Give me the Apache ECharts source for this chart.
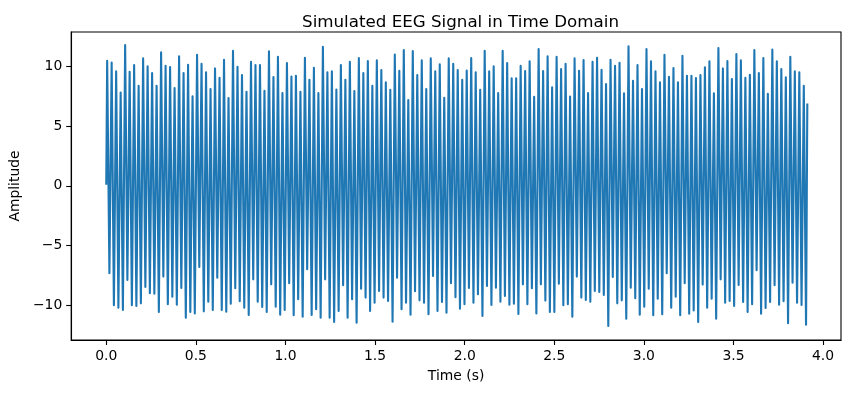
<!DOCTYPE html>
<html>
<head>
<meta charset="utf-8">
<script src="https://cdn.jsdelivr.net/npm/echarts@6/dist/echarts.min.js"></script>
<style>
  html, body { margin: 0; padding: 0; background: #fff; }
  #chart { width: 853px; height: 393px; }
</style>
</head>
<body>
<div id="chart"></div>
<script>
// ---- Data ----
const chartTitle = 'Simulated EEG Signal in Time Domain';
const xAxisTitle = 'Time (s)';
const yAxisTitle = 'Amplitude';
const xTickValues = [0, 0.5, 1, 1.5, 2, 2.5, 3, 3.5, 4];
const yTickValues = [-10, -5, 0, 5, 10];

// start / end samples of the trace
const startPoint = [0, 0.08];
const endPoint = [3.912, 6.9];
// time of the first crest and spacing between crests (s)
const firstCrestTime = 0.005;
const crestPeriod = 0.02508;

// crest (local max) values, in order
const crests = [
  10.47, 10.33, 9.58, 7.82, 11.79, 9.55, 10.11, 8.38, 10.67, 10.0, 9.44, 8.38, 11.17, 10.06, 9.94, 8.18, 10.84, 9.44, 10.14, 7.5,
  10.98, 10.22, 9.5, 8.1, 9.83, 9.05, 10.56, 7.35, 11.3, 9.97, 9.27, 7.88, 10.39, 10.11, 10.11, 7.96, 11.26, 9.11, 10.81, 7.76,
  10.28, 9.16, 9.22, 7.88, 10.73, 8.88, 9.89, 7.76, 11.65, 9.5, 9.58, 8.07, 10.11, 8.88, 10.39, 7.93, 10.7, 9.44, 10.45,
  8.38, 10.5, 9.69, 8.66, 8.04, 11.0, 9.64, 11.37, 7.18, 11.28, 9.27, 10.5, 8.1, 10.67, 9.58, 10.17, 7.37, 10.67, 10.22, 9.69,
  8.88, 9.66, 10.7, 9.5, 8.04, 11.3, 9.58, 10.0, 7.76, 11.3, 10.28, 9.0, 9.0, 10.06, 9.61, 10.42, 7.46, 11.45, 9.61, 10.84,
  8.24, 10.81, 9.78, 10.22, 7.48, 10.67, 9.64, 10.53, 7.76, 10.39, 10.73, 9.72, 8.52, 10.56, 10.06, 10.31, 7.74, 11.68, 8.8, 10.11,
  8.1, 11.45, 10.42, 9.58, 8.66, 10.98, 9.13, 9.86, 8.66, 10.89, 9.22, 9.22, 9.02, 9.27, 9.92, 10.42, 7.74, 11.54, 9.83, 10.45,
  8.94, 11.03, 10.5, 9.05, 9.3, 11.37, 9.44, 10.7, 7.71, 11.42, 10.42, 9.78, 9.08, 10.81, 9.58, 9.5, 8.38
];

// trough (local min) values, in order (each follows the crest of same index)
const troughs = [
  -7.32, -10.0, -10.2, -10.4, -7.88, -10.0, -10.06, -9.84, -8.47, -9.0, -9.03, -10.56, -7.6, -9.92, -9.28, -9.95, -8.55, -11.04, -10.56,
  -10.68, -6.79, -10.51, -9.7, -10.4, -7.69, -10.4, -10.54, -9.87, -8.58, -9.67, -10.2, -10.82, -7.83, -9.7, -10.15, -10.56, -8.25, -10.12, -10.79,
  -10.4, -8.16, -10.84, -9.5, -10.96, -6.99, -10.82, -10.34, -11.04, -7.83, -11.04, -11.4, -10.48, -8.33, -11.04, -9.5, -11.46, -8.61, -9.36, -10.48,
  -9.78, -8.8, -9.36, -9.64, -11.38, -7.69, -10.34, -9.78, -10.79, -8.83, -9.59, -9.78, -10.76, -7.55, -10.48, -9.73, -10.62, -8.16, -9.33, -10.29,
  -9.92, -8.55, -9.78, -9.08, -10.9, -8.38, -9.98, -8.53, -9.7, -9.22, -9.95, -9.87, -10.73, -8.25, -9.92, -8.58, -10.68, -8.25, -9.61, -10.56,
  -10.56, -8.19, -10.0, -9.92, -10.96, -7.6, -9.36, -9.56, -9.7, -8.8, -8.89, -9.14, -11.74, -7.63, -9.84, -9.59, -11.12, -8.53, -9.42, -10.79,
  -10.12, -8.61, -10.84, -9.45, -10.76, -7.32, -10.2, -9.28, -10.84, -8.16, -10.71, -10.43, -11.4, -8.27, -10.2, -9.45, -11.12, -7.83, -9.78, -9.64,
  -10.06, -8.3, -9.73, -10.56, -9.92, -7.07, -10.71, -10.23, -9.73, -8.33, -9.95, -9.67, -11.51, -8.11, -9.78, -9.98, -11.63
];

// ---- Build the series ----
const seriesData = [startPoint];
for (let i = 0; i < crests.length; i++) {
  seriesData.push([firstCrestTime + i * crestPeriod, crests[i]]);
  if (i < troughs.length) {
    seriesData.push([firstCrestTime + (i + 0.5) * crestPeriod, troughs[i]]);
  }
}
seriesData.push(endPoint);

const FONT = 'DejaVu Sans';
const chart = echarts.init(document.getElementById('chart'), null, { renderer: 'canvas' });
chart.setOption({
  animation: false,
  backgroundColor: '#ffffff',
  title: {
    text: chartTitle,
    left: 455.5,
    textAlign: 'center',
    top: 9,
    textStyle: { fontFamily: FONT, fontSize: 16.7, fontWeight: 'normal', color: '#000' }
  },
  grid: {
    left: 69, right: 12, top: 32, bottom: 53,
    show: true, borderColor: '#000', borderWidth: 1.1, backgroundColor: 'transparent'
  },
  xAxis: {
    type: 'value',
    min: -0.1956,
    max: 4.1,
    name: xAxisTitle,
    nameLocation: 'middle',
    nameGap: 29,
    nameTextStyle: { fontFamily: FONT, fontSize: 13.9, color: '#000' },
    axisLine: { show: true, onZero: false, lineStyle: { color: '#000', width: 1.1 } },
    axisTick: { show: true, length: 5, lineStyle: { color: '#000', width: 1.1 }, customValues: xTickValues },
    axisLabel: {
      color: '#000', fontFamily: FONT, fontSize: 13.9, margin: 9,
      customValues: xTickValues,
      formatter: v => v.toFixed(1)
    },
    splitLine: { show: false }
  },
  yAxis: {
    type: 'value',
    min: -12.91,
    max: 12.88,
    name: yAxisTitle,
    nameLocation: 'middle',
    nameGap: 43,
    nameTextStyle: { fontFamily: FONT, fontSize: 13.9, color: '#000' },
    axisLine: { show: true, onZero: false, lineStyle: { color: '#000', width: 1.1 } },
    axisTick: { show: true, length: 5, lineStyle: { color: '#000', width: 1.1 }, customValues: yTickValues },
    axisLabel: {
      color: '#000', fontFamily: FONT, fontSize: 13.9, margin: 9,
      customValues: yTickValues,
      formatter: v => (v < 0 ? '\u2212' + Math.abs(v) : String(v))
    },
    splitLine: { show: false }
  },
  series: [{
    type: 'line',
    data: seriesData,
    showSymbol: false,
    symbol: 'none',
    sampling: null,
    lineStyle: { color: '#1f77b4', width: 2.1, join: 'round', cap: 'butt' },
    emphasis: { disabled: true }
  }]
});
</script>
</body>
</html>
